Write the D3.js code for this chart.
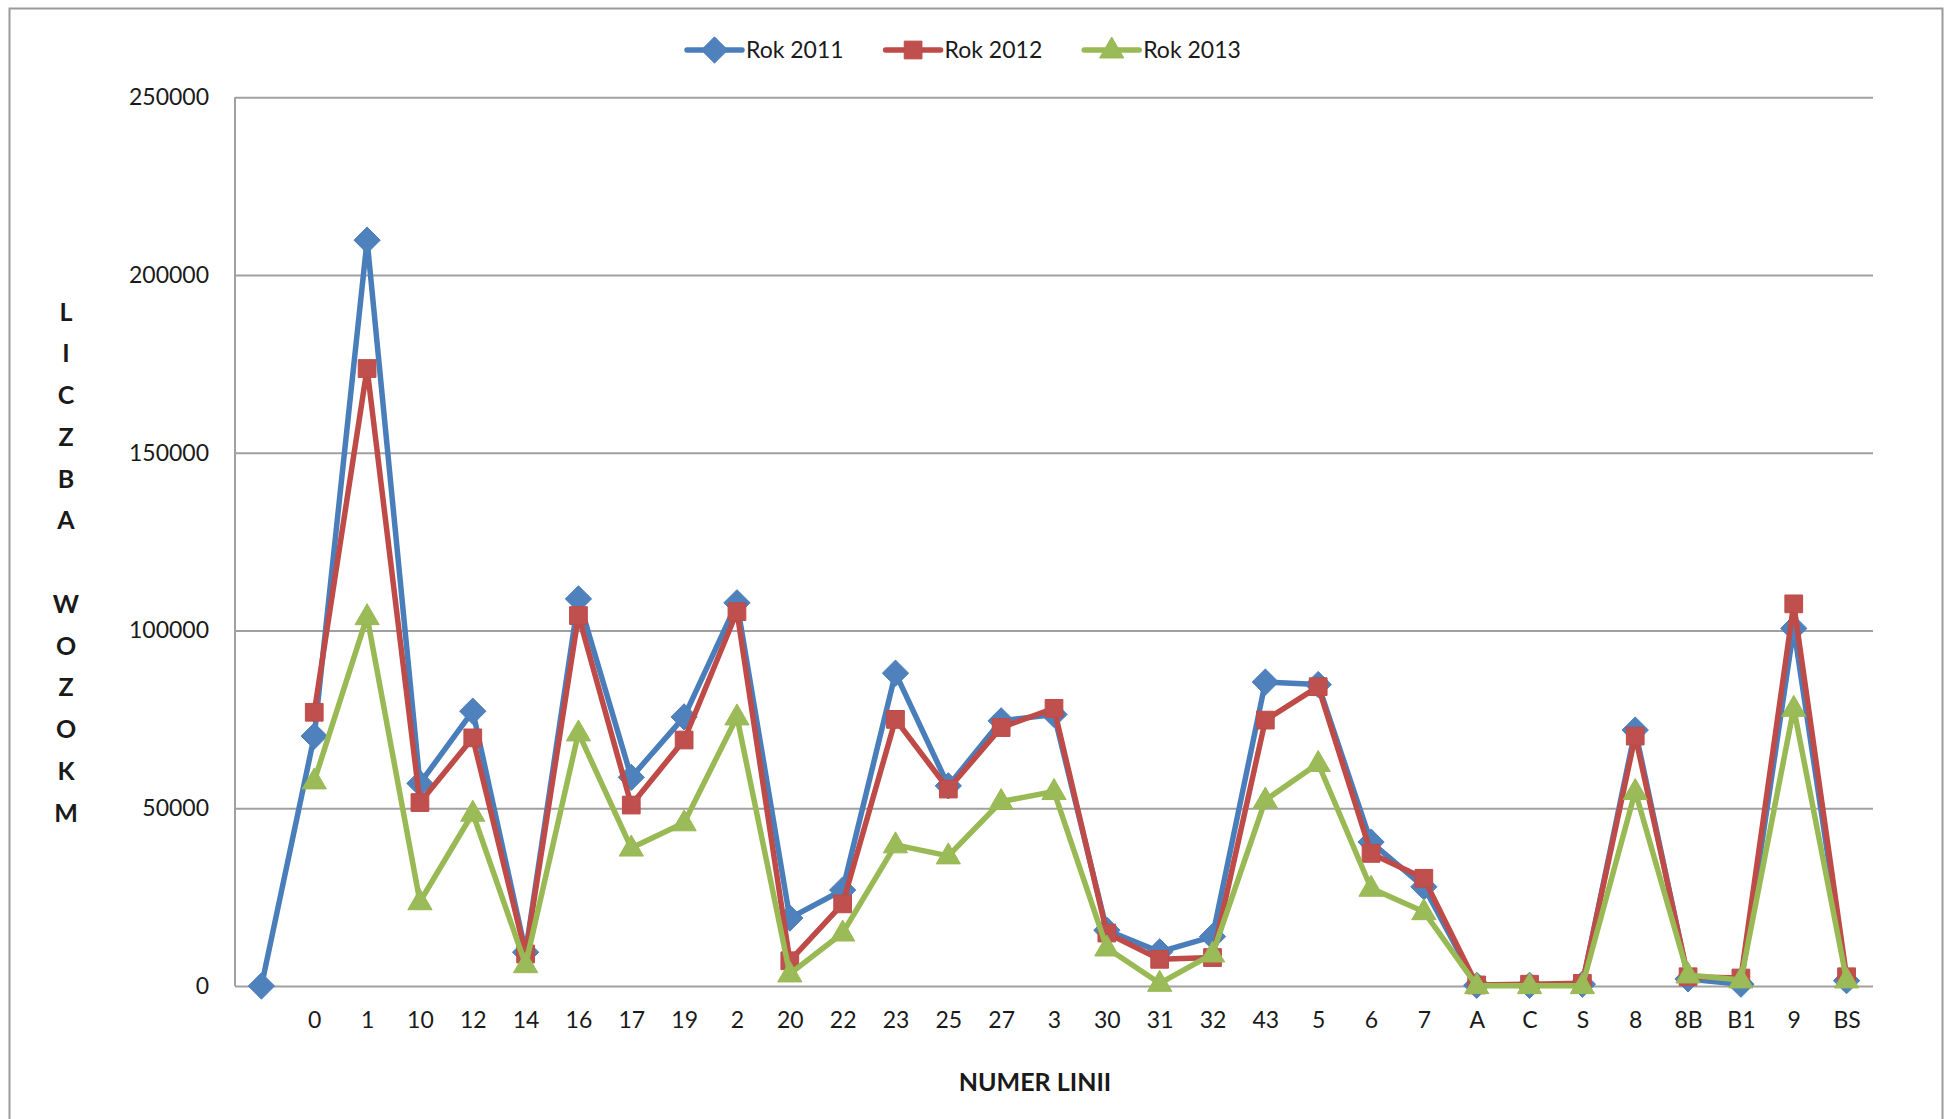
<!DOCTYPE html>
<html>
<head>
<meta charset="utf-8">
<script src="https://cdn.jsdelivr.net/npm/d3@7/dist/d3.min.js"></script>
<style>
  html, body { margin: 0; padding: 0; background: #fff; }
  svg { display: block; font-family: Lato, "Open Sans", sans-serif; }
</style>
</head>
<body>
<svg id="chart" width="1952" height="1119"></svg>
<script>
// ---- data ----
const categories = ["", "0", "1", "10", "12", "14", "16", "17", "19", "2", "20", "22", "23", "25", "27", "3",
  "30", "31", "32", "43", "5", "6", "7", "A", "C", "S", "8", "8B", "B1", "9", "BS"];
const rok2011 = [0, 70300, 209800, 57000, 77300, 9500, 108900, 58700, 75700, 107800, 19100, 27000, 88000, 56300,
  74600, 76400, 15700, 9600, 13900, 85500, 84800, 40500, 27900, 200, 200, 500, 72000, 2000, 500, 100600, 1500];
const rok2012 = [null, 77000, 173700, 51600, 69800, 9000, 104200, 50900, 69200, 105300, 7100, 23100, 75000, 55400,
  72700, 78100, 14900, 7500, 8000, 74800, 84200, 37300, 30300, 300, 500, 750, 70300, 2600, 2250, 107500, 2600];
const rok2013 = [null, 57700, 103900, 23700, 48600, 6000, 71200, 38800, 45900, 75700, 3400, 14900, 39700, 36600,
  51900, 54700, 10700, 750, 9000, 52300, 62600, 27500, 20900, 100, 100, 100, 54700, 3100, 1700, 78100, 1700];
const seriesNames = ["Rok 2011", "Rok 2012", "Rok 2013"];
const yTicks = [0, 50000, 100000, 150000, 200000, 250000];
const yTitle = ["L", "I", "C", "Z", "B", "A", "", "W", "O", "Z", "O", "K", "M"];
const xTitle = "NUMER LINII";

(function () {
// ---- layout ----
const svg = d3.select("#chart");
const pLeft = 235, pRight = 1873, pTop = 97.3, pBottom = 986;
const lineColors = ["#4A7EBB", "#BE4B48", "#98B954"];
const markColors = ["#4F81BD", "#C0504D", "#9BBB59"];
const symbols = [d3.symbolDiamond2, d3.symbolSquare2, d3.symbolTriangle2];
const symSizes = [440, 400, 420];

// outer frame
svg.append("rect").attr("x", 9.5).attr("y", 8.5).attr("width", 1933).attr("height", 1130)
  .attr("fill", "none").attr("stroke", "#9a9a9a").attr("stroke-width", 2);

const x = d3.scalePoint().domain(categories).range([pLeft, pRight]).padding(0.5);
const y = d3.scaleLinear().domain([0, 250000]).range([pBottom, pTop]);

// y grid + labels
const yAxis = svg.append("g").attr("transform", `translate(${pLeft},0)`)
  .call(d3.axisLeft(y).tickValues(yTicks).tickSize(-(pRight - pLeft)).tickPadding(26).tickFormat(d3.format("d")));
yAxis.select(".domain").remove();
yAxis.selectAll(".tick line").attr("stroke", "#a0a0a0").attr("stroke-width", 2);
yAxis.selectAll(".tick text").attr("font-size", 23).attr("fill", "#1a1a1a")
  .attr("font-family", "Lato, sans-serif");
// vertical axis line
svg.append("line").attr("x1", pLeft).attr("x2", pLeft).attr("y1", pTop).attr("y2", pBottom)
  .attr("stroke", "#a0a0a0").attr("stroke-width", 2);

// x labels
const xAxis = svg.append("g").attr("transform", `translate(0,${pBottom})`)
  .call(d3.axisBottom(x).tickSize(0).tickPadding(26));
xAxis.select(".domain").remove();
xAxis.selectAll(".tick text").attr("font-size", 23).attr("fill", "#1a1a1a")
  .attr("font-family", "Lato, sans-serif");

// series
const allSeries = [rok2011, rok2012, rok2013];
allSeries.forEach((vals, si) => {
  const pts = categories.map((c, i) => ({c, v: vals[i]})).filter(d => d.v !== null);
  const line = d3.line().x(d => x(d.c)).y(d => y(d.v));
  const g = svg.append("g");
  g.append("path").datum(pts).attr("d", line).attr("fill", "none")
    .attr("stroke", lineColors[si]).attr("stroke-width", 5.5).attr("stroke-linejoin", "round");
  g.selectAll("path.m").data(pts).enter().append("path").attr("class", "m")
    .attr("transform", d => `translate(${x(d.c)},${y(d.v) + (si === 2 ? 1 : 0)})`)
    .attr("d", d3.symbol().type(symbols[si]).size(symSizes[si]))
    .attr("fill", markColors[si]).attr("stroke", lineColors[si]).attr("stroke-width", 1);
});

// legend
const legend = svg.append("g").attr("transform", "translate(687,50)");
seriesNames.forEach((name, i) => {
  const g = legend.append("g").attr("transform", `translate(${i * 198.6},0)`);
  g.append("line").attr("x1", 0).attr("x2", 55).attr("y1", 0).attr("y2", 0)
    .attr("stroke", lineColors[i]).attr("stroke-width", 5.5).attr("stroke-linecap", "round");
  g.append("path").attr("transform", `translate(27.5,${i === 2 ? 1 : 0})`)
    .attr("d", d3.symbol().type(symbols[i]).size(symSizes[i]))
    .attr("fill", markColors[i]).attr("stroke", lineColors[i]).attr("stroke-width", 1);
  g.append("text").attr("x", 59).attr("y", 0).attr("dy", "0.36em").attr("font-size", 23)
    .attr("fill", "#1a1a1a").text(name);
});

// y title (stacked letters)
svg.append("g").selectAll("text").data(yTitle).enter().append("text")
  .attr("x", 66).attr("y", (d, i) => 311.7 + i * 41.75).attr("dy", "0.36em")
  .attr("text-anchor", "middle").attr("font-size", 25).attr("font-weight", "bold")
  .attr("fill", "#1a1a1a").text(d => d);

// x title
svg.append("text").attr("x", 1035).attr("y", 1082).attr("dy", "0.36em")
  .attr("text-anchor", "middle").attr("font-size", 25).attr("font-weight", "bold")
  .attr("fill", "#1a1a1a").text(xTitle);
})();
</script>
</body>
</html>
